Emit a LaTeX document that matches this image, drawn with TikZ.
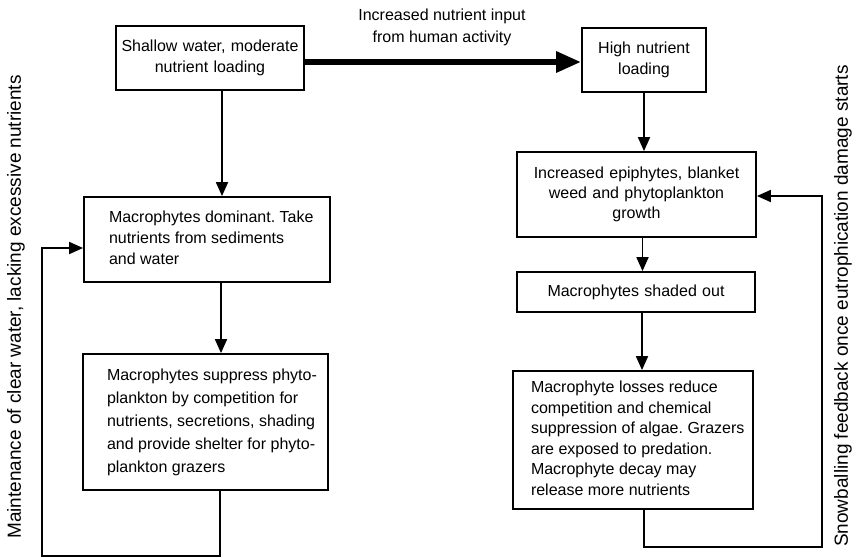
\documentclass[tikz,border=0pt]{standalone}
\usepackage{fontspec}
\setmainfont{Liberation Sans}
\usetikzlibrary{arrows.meta}
\frenchspacing
% a block of left-aligned lines, set in a box of width #1 and indented by #2
\newcommand\indentedlines[3]{\makebox[#1][l]{\hspace*{#2}\begin{tabular}{@{}l@{}}#3\end{tabular}}}
\begin{document}
\begin{tikzpicture}[x=1pt,y=-1pt,
  box/.style={draw, line width=1.8pt, inner xsep=0pt, inner ysep=4pt,
    font=\fontsize{16}{21}\selectfont},
  cbox/.style={box, align=center},
  lbox/.style={box},
  flow/.style={line width=1.8pt, -{Triangle[length=14pt,width=12pt]}},
  bigflow/.style={line width=6pt, -{Triangle[length=25pt,width=20pt]}},
  side/.style={font=\fontsize{19}{23}\selectfont, rotate=90, inner sep=0pt},
  note/.style={font=\fontsize{16}{22}\selectfont, align=center, inner sep=0pt}
]
\useasboundingbox (0,0) rectangle (861,557);

% left column: clear-water state
\node[cbox, text width=188pt, minimum height=64pt] (shallow) at (210,58)
  {Shallow water, moderate\\nutrient loading};
\node[lbox, minimum width=246pt, minimum height=85pt] (dominant) at (207,239.5)
  {\indentedlines{246pt}{25pt}{Macrophytes dominant. Take\\nutrients from sediments\\and water}};
\node[lbox, minimum width=245pt, minimum height=136pt,
      font=\fontsize{16}{23}\selectfont] (suppress) at (205.5,422)
  {\indentedlines{245pt}{24pt}{Macrophytes suppress phyto-\\plankton by competition for\\nutrients, secretions, shading\\and provide shelter for phyto-\\plankton grazers}};

% right column: eutrophic state
\node[cbox, text width=124pt, minimum height=64pt] (high) at (644,60)
  {High nutrient\\loading};
\node[cbox, text width=239pt, minimum height=85pt,
      font=\fontsize{16}{20}\selectfont] (epiphytes) at (636.5,194.5)
  {Increased epiphytes, blanket\\weed and phytoplankton\\growth};
\node[cbox, text width=238pt, minimum height=40pt] (shaded) at (636,292)
  {Macrophytes shaded out};
\node[lbox, minimum width=240pt, minimum height=138pt,
      font=\fontsize{16}{20.5}\selectfont] (losses) at (633,440)
  {\indentedlines{240pt}{18pt}{Macrophyte losses reduce\\competition and chemical\\suppression of algae. Grazers\\are exposed to predation.\\Macrophyte decay may\\release more nutrients}};

% transition between the two states
\node[note] (input) at (442,27) {Increased nutrient input\\from human activity};
\draw[bigflow] ([yshift=-4pt]shallow.east) -- ([yshift=-4pt]shallow.east -| high.west);

% downward flows
\draw[flow] ([xshift=12pt]shallow.south) -- ([xshift=12pt]shallow.south |- dominant.north);
\draw[flow] ([xshift=14pt]dominant.south) -- ([xshift=14pt]dominant.south |- suppress.north);
\draw[flow] (high.south) -- (high.south |- epiphytes.north);
\draw[flow] ([xshift=6pt]epiphytes.south) -- ([xshift=6pt]epiphytes.south |- shaded.north);
\draw[flow] ([xshift=6pt]shaded.south) -- ([xshift=6pt]shaded.south |- losses.north);

% feedback loops
\coordinate (leftloop) at (42,556);
\coordinate (rightloop) at (822,547);
\draw[flow] ([xshift=14.5pt]suppress.south) |- (leftloop) |- ([yshift=-8.5pt]dominant.west);
\draw[flow] ([xshift=11pt]losses.south) |- (rightloop) |- ([yshift=-1.5pt]epiphytes.east);

% loop captions
\node[side] (clear) at (16,307) {Maintenance of clear water, lacking excessive nutrients};
\node[side] (snow) at (843,306) {Snowballing feedback once eutrophication damage starts};
\end{tikzpicture}
\end{document}
